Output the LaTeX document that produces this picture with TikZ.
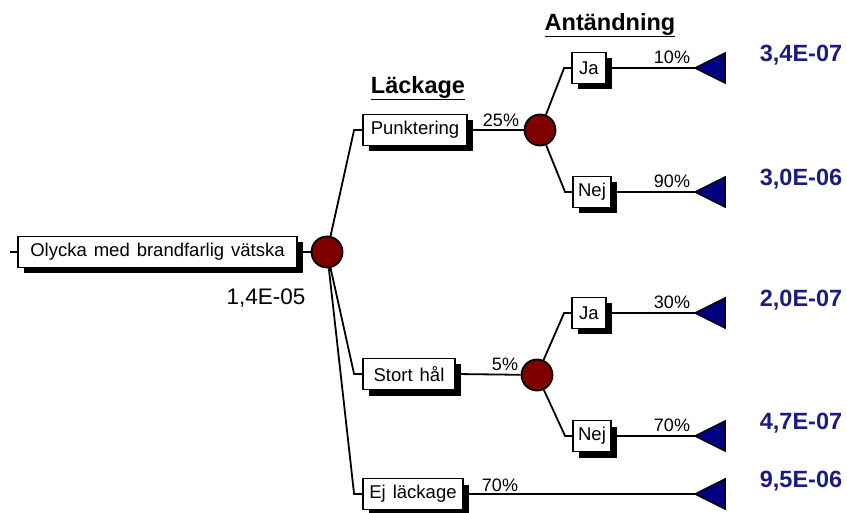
\documentclass[tikz,border=0pt]{standalone}
\usepackage{fontspec}
\setmainfont{Liberation Sans}
\usetikzlibrary{shadows,calc}
\definecolor{chance}{HTML}{800000}
\definecolor{endnode}{HTML}{000080}
\definecolor{valtext}{HTML}{1C1C80}
\newcommand\boxfont{\fontsize{18.5}{22}\selectfont\spaceskip=7pt\relax}

\tikzset{
  evbox/.style={draw, line width=1.8pt, fill=white, inner sep=0pt, minimum height=31pt,
    font=\boxfont,
    drop shadow={shadow xshift=6pt, shadow yshift=-6pt, fill=black, opacity=1}},
  chancenode/.style={circle, draw, line width=1.8pt, fill=chance, minimum size=31pt, inner sep=0pt},
  branch/.style={line width=1.8pt},
  pct/.style={font=\fontsize{18}{21}\selectfont},
  endtri/.style={fill=endnode, draw=black, line width=1.5pt, line join=miter},
  endval/.style={font=\fontsize{23.5}{26}\selectfont\bfseries, text=valtext},
  header/.style={font=\fontsize{23.5}{26}\selectfont\bfseries}
}

\begin{document}
\begin{tikzpicture}[x=1pt, y=-1pt]
  \useasboundingbox (0,0) rectangle (847,513);
  % headers
  \node[header] (hleak) at (418,88) {\underline{Läckage}};
  \node[header] (hign) at (610,25) {\underline{Antändning}};
  % root event
  \node[evbox, minimum width=279pt] (root) at (157.5,252) {Olycka med brandfarlig vätska};
  \coordinate (rin) at (10,252);
  \draw[branch] (rin) -- (root.west);
  \node[chancenode] (c0) at (327,252) {};
  \draw[branch] (root.east) -- (c0);
  \node[font=\fontsize{22.5}{25}\selectfont] (p0) at (266,298) {1,4E-05};
  % leak level
  \node[evbox, minimum width=104pt] (punk) at (415,130) {Punktering};
  \node[evbox, minimum width=92pt] (stort) at (409,374) {Stort hål};
  \node[evbox, minimum width=100pt] (ej) at (413,494) {Ej läckage};
  \foreach \b in {punk, stort, ej}{
    \draw[branch] (c0) -- ([xshift=-8pt]\b.west) -- (\b.west);
  }
  \node[chancenode] (c1) at (540,130) {};
  \node[chancenode] (c2) at (537,375) {};
  \draw[branch] (punk.east) -- (c1);
  \draw[branch] (stort.east) -- (c2);
  \node[pct] at (501,120) {25\%};
  \node[pct] at (505,364) {5\%};
  \node[pct] at (500,485) {70\%};
  % ignition level
  \node[evbox, minimum width=34pt] (ja1) at (589,68) {Ja};
  \node[evbox, minimum width=38pt] (nej1) at (592,192) {Nej};
  \node[evbox, minimum width=34pt] (ja2) at (589,313) {Ja};
  \node[evbox, minimum width=38pt] (nej2) at (592,436) {Nej};
  \foreach \c/\b in {c1/ja1, c1/nej1, c2/ja2, c2/nej2}{
    \draw[branch] (\c) -- ([xshift=-7pt]\b.west) -- (\b.west);
  }
  % end nodes
  \foreach \b/\y/\val [count=\i] in {ja1/68/3{,}4E-07, nej1/192/3{,}0E-06,
      ja2/313/2{,}0E-07, nej2/436/4{,}7E-07, ej/494/9{,}5E-06}{
    \coordinate (t\i) at (695,\y);
    \draw[branch] (\b.east) -- (t\i);
    \filldraw[endtri] (t\i) -- ++(30,-15) -- ++(0,30) -- cycle;
    \node[endval] (v\i) at (801,\y-13) {\val};
  }
  \node[pct] at (672,57) {10\%};
  \node[pct] at (672,181) {90\%};
  \node[pct] at (672,302) {30\%};
  \node[pct] at (672,425) {70\%};
\end{tikzpicture}
\end{document}
